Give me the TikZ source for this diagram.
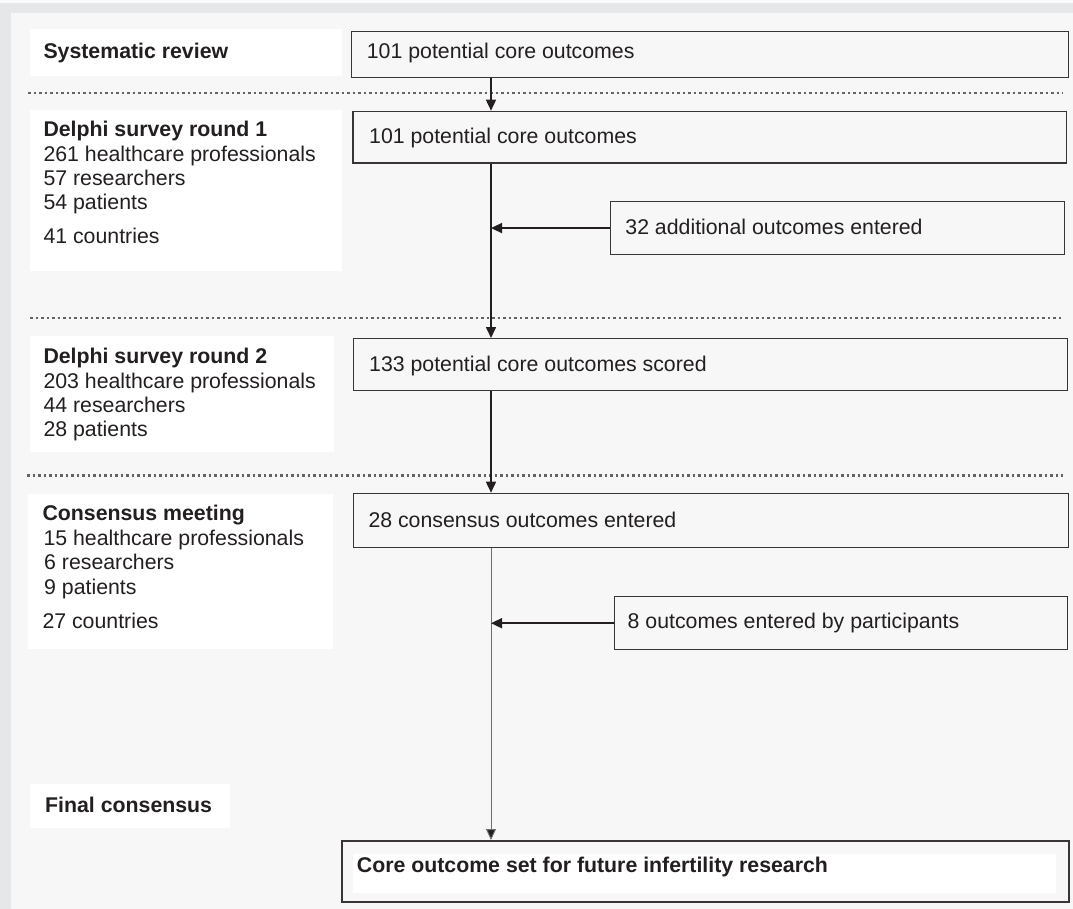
\documentclass[tikz,border=0pt]{standalone}
\usepackage{fontspec}
\setmainfont{Liberation Sans}
\usetikzlibrary{arrows.meta}
\definecolor{band}{HTML}{E6E7E8}
\definecolor{panel}{HTML}{F7F7F7}
\definecolor{ink}{HTML}{231F20}
\definecolor{dotc}{HTML}{626366}
\definecolor{thin}{HTML}{6D6E71}
\begin{document}
\begin{tikzpicture}[x=1pt,y=-1pt,
  every node/.style={font=\fontsize{21.3}{24.5}\selectfont, text=ink},
  outbox/.style={draw=ink!90, line width=1.4pt, fill=panel, anchor=north west, inner sep=0pt},
  wbox/.style={fill=white, anchor=north west, inner sep=0pt},
  txt/.style={anchor=base west, inner sep=0pt},
  hd/.style={txt, font=\fontsize{21.3}{24.5}\selectfont\bfseries},
  flow/.style={draw=ink, line width=1.6pt, -{Triangle[length=11pt,width=10pt]}},
  thinflow/.style={draw=thin, line width=1pt, -{Triangle[length=11pt,width=10pt,fill=ink]}},
  sep/.style={draw=dotc, line width=2.8pt, dash pattern=on 2.9pt off 2.6pt}
]
% background
\fill[band] (0,0) rectangle (1073,909);
\fill[panel!60!white] (0,0) rectangle (1073,3);
\fill[panel] (11,13) rectangle (1073,909);
\useasboundingbox (0,0) rectangle (1073,909);

% separators
\draw[sep] (28,93) -- (1063,93);
\draw[sep] (30,318) -- (1063,318);
\draw[sep] (27,475.7) -- (1063,475.7);

% left white label boxes
\node[wbox, minimum width=312.4pt, minimum height=46.7pt] (w1) at (29.3,29.3) {};
\node[wbox, minimum width=312.4pt, minimum height=160.7pt] (w2) at (29.3,110) {};
\node[wbox, minimum width=304pt, minimum height=115.7pt] (w3) at (29.3,336) {};
\node[wbox, minimum width=305pt, minimum height=155pt] (w4) at (27.3,493.3) {};
\node[wbox, minimum width=200pt, minimum height=44pt] (w5) at (30,784) {};

% left texts
\node[hd] (l1) at (43.3,58.3) {Systematic review};

\node[hd] (l2a) at (43.3,136.7) {Delphi survey round 1};
\node[txt] (l2b) at (43.3,161.5) {261 healthcare professionals};
\node[txt] (l2c) at (43.3,185.5) {57 researchers};
\node[txt] (l2d) at (43.3,209.8) {54 patients};
\node[txt] (l2e) at (43.3,244) {41 countries};

\node[hd] (l3a) at (43.3,363.3) {Delphi survey round 2};
\node[txt] (l3b) at (43.3,388.3) {203 healthcare professionals};
\node[txt] (l3c) at (43.3,412.3) {44 researchers};
\node[txt] (l3d) at (43.3,436.7) {28 patients};

\node[hd] (l4a) at (42.3,520) {Consensus meeting};
\node[txt] (l4b) at (43.3,545) {15 healthcare professionals};
\node[txt] (l4c) at (44,569) {6 researchers};
\node[txt] (l4d) at (44,594) {9 patients};
\node[txt] (l4e) at (42.3,628.3) {27 countries};

\node[hd] (l5) at (45,812) {Final consensus};

% right outlined boxes
\node[outbox, minimum width=717pt, minimum height=46.3pt] (b1) at (350.7,30.7) {};
\node[outbox, minimum width=713.4pt, minimum height=51.6pt] (b2) at (352.3,110.7) {};
\node[outbox, minimum width=454.2pt, minimum height=53.3pt] (b3) at (609.8,200.7) {};
\node[outbox, minimum width=714pt, minimum height=52pt] (b4) at (352.7,338) {};
\node[outbox, minimum width=715pt, minimum height=54pt] (b5) at (352.7,492.7) {};
\node[outbox, minimum width=453pt, minimum height=53pt] (b6) at (613.7,596) {};
\node[outbox, line width=2pt, minimum width=727pt, minimum height=61pt] (b7) at (341,840) {};
\node[wbox, minimum width=703.3pt, minimum height=38.7pt] (b7in) at (352.7,854) {};

% right texts
\node[txt] (t1) at (366.7,58.3) {101 potential core outcomes};
\node[txt] (t2) at (369,144) {101 potential core outcomes};
\node[txt] (t3) at (625.2,235) {32 additional outcomes entered};
\node[txt] (t4) at (369,371.7) {133 potential core outcomes scored};
\node[txt] (t5) at (368.3,527.7) {28 consensus outcomes entered};
\node[txt] (t6) at (627.5,628.3) {8 outcomes entered by participants};
\node[hd] (t7) at (356.7,872.3) {Core outcome set for future infertility research};

% connectors
\coordinate (ax) at (491,0);
\draw[flow] (b1.south -| ax) -- (b2.north -| ax);
\draw[flow] (b2.south -| ax) -- (b4.north -| ax);
\draw[flow] (b3.west) -- (b3.west -| ax);
\draw[flow] (b4.south -| ax) -- (b5.north -| ax);
\draw[thinflow] (b5.south -| ax) -- (b7.north -| ax);
\draw[flow] (b6.west) -- (b6.west -| ax);
\end{tikzpicture}
\end{document}
